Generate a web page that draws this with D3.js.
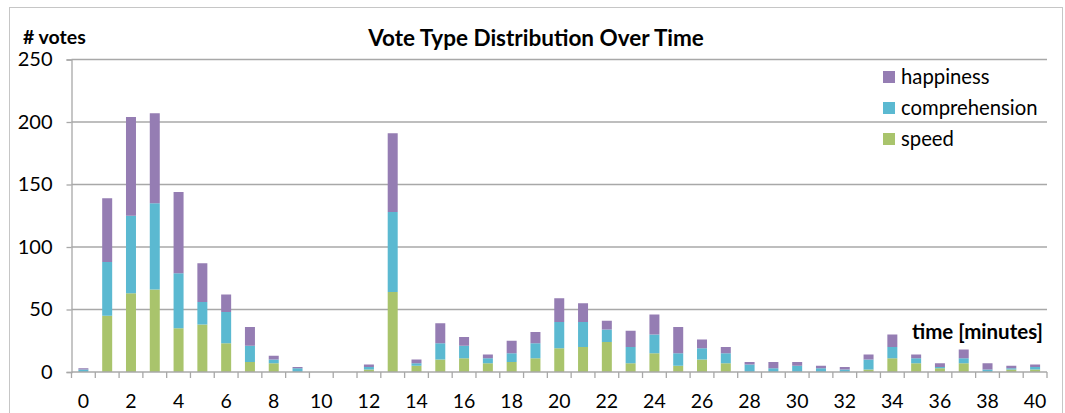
<!DOCTYPE html>
<html>
<head>
<meta charset="utf-8">
<script src="https://cdn.jsdelivr.net/npm/d3@7"></script>
<style>
  html, body { margin: 0; padding: 0; background: #fff; }
  svg { display: block; font-family: Lato, "Open Sans", sans-serif; }
</style>
</head>
<body>
<svg id="chart" width="1065" height="413"></svg>
<script>
// Minutes since start of the session (one bar per minute)
const minutes = d3.range(0, 41);
const tickLabels = d3.range(0, 41, 2);
const yTicks = [0, 50, 100, 150, 200, 250];

// Votes per minute, by vote type (stacked bottom to top)
const speed = [0,45,63,66,35,38,23,8,7,0,0,0,2,64,5,10,11,7,8,11,19,20,24,7,15,5,10,7,0,0,0,0,0,2,11,7,3,7,0,2,2];
const comprehension = [2,43,62,69,44,18,25,13,3,3,0,0,2,64,2,13,10,4,7,12,21,20,10,13,15,10,9,8,6,3,5,3,2,8,9,4,1,4,2,1,2];
const happiness = [1,51,79,72,65,31,14,15,3,1,0,0,2,63,3,16,7,3,10,9,19,15,7,13,16,21,7,5,2,5,3,2,2,4,10,3,3,7,5,2,2];

const seriesNames = ["speed", "comprehension", "happiness"];
const seriesColors = { speed: "#a9c46c", comprehension: "#5bb9d1", happiness: "#957db3" };

const rows = minutes.map((m, i) => ({
  minute: m,
  speed: speed[i],
  comprehension: comprehension[i],
  happiness: happiness[i]
}));

const svg = d3.select("#chart");
const plot = { left: 71.5, right: 1047, top: 59.5, bottom: 372 };

// outer frame
svg.append("rect")
  .attr("x", 9.5).attr("y", 7.5)
  .attr("width", 1053).attr("height", 430)
  .attr("fill", "none").attr("stroke", "#c6c6c6").attr("stroke-width", 1);

const x = d3.scaleBand()
  .domain(minutes)
  .range([plot.left, plot.right])
  .paddingInner(0.58)
  .paddingOuter(0.29);

const y = d3.scaleLinear()
  .domain([0, 250])
  .range([plot.bottom, plot.top]);

const gridColor = "#a8a8a8";

// horizontal gridlines
svg.append("g")
  .selectAll("line")
  .data(yTicks.filter(d => d > 0))
  .join("line")
  .attr("x1", plot.left).attr("x2", plot.right)
  .attr("y1", d => y(d)).attr("y2", d => y(d))
  .attr("stroke", gridColor).attr("stroke-width", 1.3);

// stacked bars
const stack = d3.stack().keys(seriesNames);
const layers = stack(rows);

svg.append("g")
  .selectAll("g")
  .data(layers)
  .join("g")
  .attr("fill", d => seriesColors[d.key])
  .selectAll("rect")
  .data(d => d)
  .join("rect")
  .attr("x", d => x(d.data.minute))
  .attr("width", x.bandwidth())
  .attr("y", d => y(d[1]))
  .attr("height", d => Math.max(0, y(d[0]) - y(d[1])));

// y axis
const yAxis = d3.axisLeft(y).tickValues(yTicks).tickSize(5).tickPadding(14);
const yg = svg.append("g")
  .attr("transform", `translate(${plot.left},0)`)
  .call(yAxis);
yg.select(".domain").attr("stroke", gridColor).attr("stroke-width", 1.3);
yg.selectAll(".tick line").attr("stroke", gridColor).attr("stroke-width", 1.3);
yg.selectAll(".tick text")
  .attr("font-size", 20).attr("fill", "#000")
  .attr("font-family", "Lato, sans-serif");

// x axis: baseline with ticks on minute boundaries, labels on even minutes
const step = x.step();
const boundaries = d3.range(0, minutes.length + 1).map(i => plot.left + i * step);
const xg = svg.append("g");
xg.append("line")
  .attr("x1", plot.left).attr("x2", plot.right)
  .attr("y1", plot.bottom).attr("y2", plot.bottom)
  .attr("stroke", gridColor).attr("stroke-width", 1.3);
xg.selectAll("line.tick")
  .data(boundaries)
  .join("line")
  .attr("class", "tick")
  .attr("x1", d => d).attr("x2", d => d)
  .attr("y1", plot.bottom).attr("y2", plot.bottom + 6)
  .attr("stroke", gridColor).attr("stroke-width", 1.3);
xg.selectAll("text")
  .data(tickLabels)
  .join("text")
  .attr("x", d => x(d) + x.bandwidth() / 2)
  .attr("y", 408)
  .attr("text-anchor", "middle")
  .attr("font-size", 19.5)
  .text(d => d);

// titles
svg.append("text")
  .attr("x", 536).attr("y", 46)
  .attr("text-anchor", "middle")
  .attr("font-size", 22.5).attr("font-weight", "bold")
  .text("Vote Type Distribution Over Time");

svg.append("text")
  .attr("x", 23).attr("y", 44)
  .attr("font-size", 19.5).attr("font-weight", "bold")
  .text("# votes");

svg.append("text")
  .attr("x", 1043).attr("y", 339)
  .attr("text-anchor", "end")
  .attr("font-size", 20.5).attr("font-weight", "bold")
  .text("time [minutes]");

// legend (top-most series first)
const legendItems = seriesNames.slice().reverse();
const lg = svg.append("g").attr("transform", "translate(883,71)");
const li = lg.selectAll("g")
  .data(legendItems)
  .join("g")
  .attr("transform", (d, i) => `translate(0,${i * 31})`);
li.append("rect")
  .attr("width", 12).attr("height", 12)
  .attr("fill", d => seriesColors[d]);
li.append("text")
  .attr("x", 18).attr("y", 12.5)
  .attr("font-size", 20.3)
  .text(d => d);
</script>
</body>
</html>
